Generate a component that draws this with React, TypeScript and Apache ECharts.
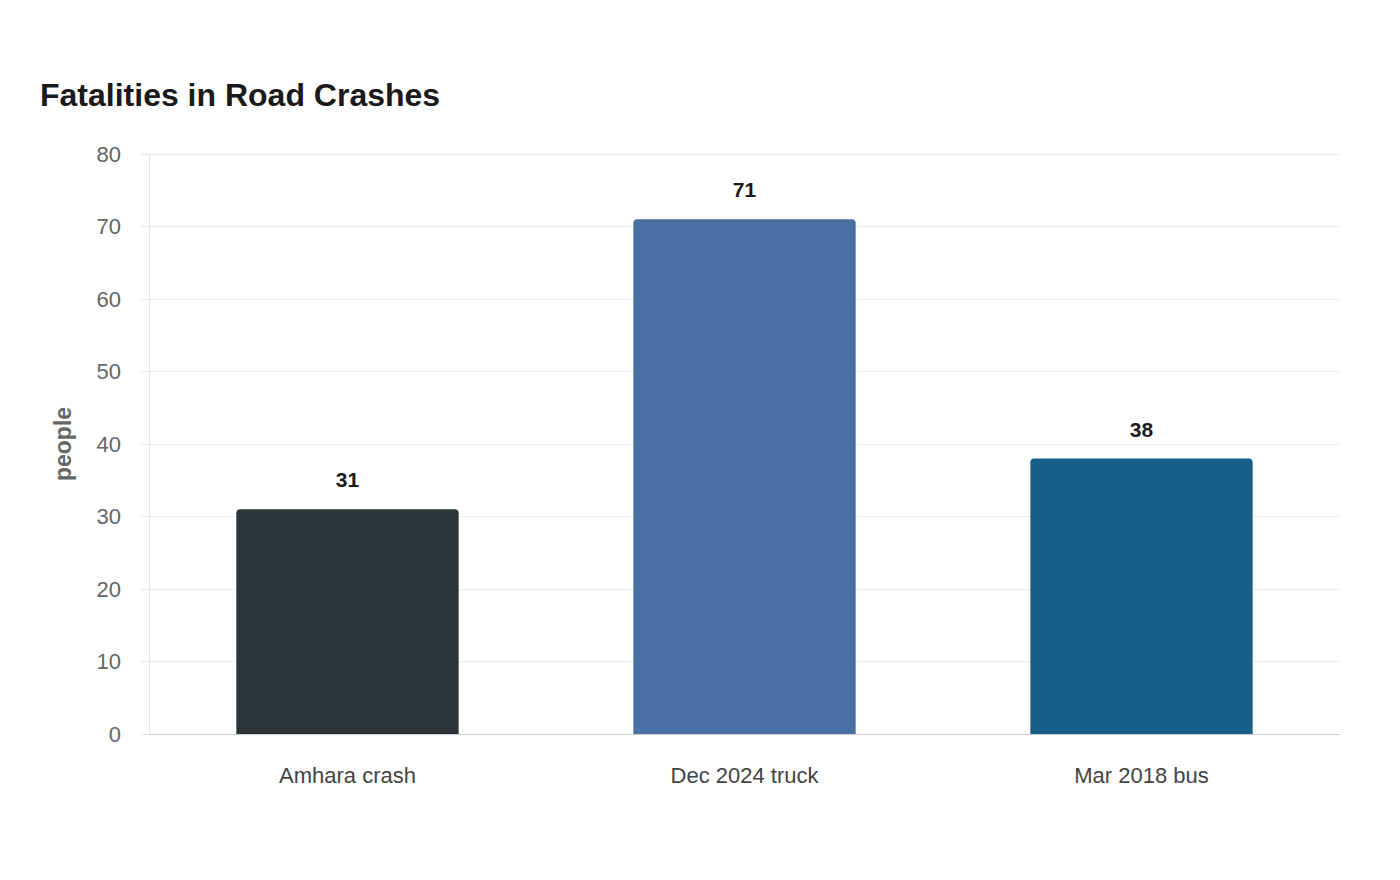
import React, { useEffect, useRef } from "react";
import * as echarts from "echarts";

const categories = ["Amhara crash", "Dec 2024 truck", "Mar 2018 bus"];
const fatalities = [31, 71, 38];
const barColors = ["#2d3538", "#4a6fa5", "#186089"];
const yTicks = { min: 0, max: 80, interval: 10 };

export default function App() {
  const ref = useRef<HTMLDivElement>(null);

  useEffect(() => {
    if (!ref.current) return;
    const chart = echarts.init(ref.current, null, { renderer: "svg" });
    const font = "'Liberation Sans', Arial, sans-serif";
    chart.setOption({
      animation: false,
      backgroundColor: "#ffffff",
      textStyle: { fontFamily: font },
      title: {
        text: "Fatalities in Road Crashes",
        left: 35,
        top: 74,
        textStyle: { fontSize: 32, fontWeight: "bold", color: "#1a1a1a", fontFamily: font },
      },
      grid: { left: 149, right: 60, top: 154, bottom: 146, containLabel: false },
      xAxis: {
        type: "category",
        data: categories,
        axisLine: { lineStyle: { color: "#cccccc" } },
        axisTick: { show: false },
        axisLabel: { margin: 30, fontSize: 22, color: "#444444", fontFamily: font },
      },
      yAxis: {
        type: "value",
        min: yTicks.min,
        max: yTicks.max,
        interval: yTicks.interval,
        name: "people",
        nameLocation: "middle",
        nameGap: 75,
        nameTextStyle: { fontSize: 23, fontWeight: "bold", color: "#666666", fontFamily: font },
        axisLine: { show: true, lineStyle: { color: "#e6e6e6" } },
        axisTick: { show: true, length: 8, lineStyle: { color: "#e6e6e6" } },
        axisLabel: { margin: 28, fontSize: 22, color: "#666666", fontFamily: font },
        splitLine: { lineStyle: { color: "#ececec" } },
      },
      series: [
        {
          type: "bar",
          barWidth: "56%",
          data: fatalities.map((v, i) => ({
            value: v,
            itemStyle: { color: barColors[i], borderRadius: [4, 4, 0, 0] },
          })),
          label: {
            show: true,
            position: "top",
            distance: 19,
            fontSize: 21,
            fontWeight: "bold",
            color: "#1a1a1a",
            fontFamily: font,
          },
        },
      ],
    });
    return () => chart.dispose();
  }, []);

  return (
    <div
      ref={ref}
      style={{ position: "absolute", left: 0, top: 0, width: 1400, height: 880 }}
    />
  );
}
